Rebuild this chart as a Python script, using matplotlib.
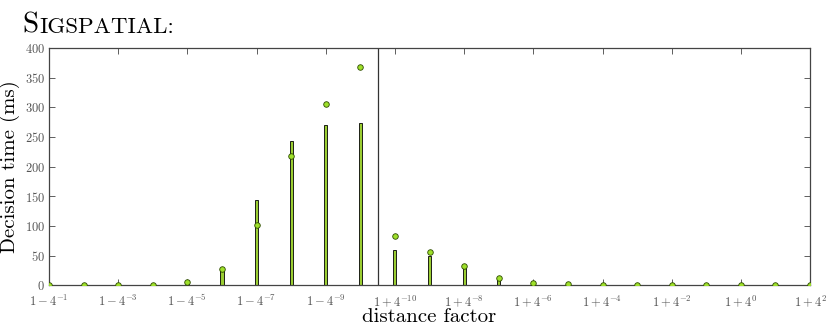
import numpy as np
import matplotlib
matplotlib.use("Agg")
import matplotlib.pyplot as plt

plt.rcParams['mathtext.fontset'] = 'cm'
plt.rcParams['font.family'] = ['cmr10', 'DejaVu Serif']
plt.rcParams['axes.formatter.use_mathtext'] = True

# distance factors: 1-4^-1 ... 1-4^-10, then 1+4^-10 ... 1+4^2
left_exp = list(range(-1, -11, -1))
right_exp = list(range(-10, 3))
labels = ([r"$1-4^{%d}$" % e for e in left_exp] +
          [r"$1+4^{%d}$" % e for e in right_exp])

bar_ms = [0.5, 0.3, 0.3, 0.5, 2, 25, 143, 243, 270, 273,
          59, 49, 29, 10, 3, 1, 0.5, 0.5, 0.5, 0.5, 0.5, 0.5, 0.5]
point_ms = [0.3, 0.5, 1, 1, 5, 27, 101, 218, 305, 368,
            83, 56, 32, 12, 4, 1.5, 1, 1, 1, 1, 1, 1, 0.5]

pos = np.arange(len(labels))

fig = plt.figure(figsize=(8.3, 3.27), dpi=100)
ax = fig.add_axes([0.059, 0.128, 0.917, 0.725])

ax.bar(pos, bar_ms, width=0.09, color='yellowgreen', edgecolor='black',
       linewidth=0.6, zorder=2)
ax.plot(pos, point_ms, 'o', markersize=4, markerfacecolor='#9ee02a',
        markeredgecolor='#2d4a00', markeredgewidth=0.6, zorder=3)
ax.axvline(9.5, color='#333333', linewidth=0.9, zorder=1)

ax.set_xlim(0, 22)
ax.set_ylim(0, 400)
ax.set_yticks(range(0, 401, 50))
ax.set_xticks(pos[::2])
ax.set_xticklabels(labels[::2])

for s in ax.spines.values():
    s.set_color('#444444')
    s.set_linewidth(0.9)
ax.tick_params(direction='in', top=True, right=True, length=4, width=0.6,
               color='#444444', labelsize=9, labelcolor='#555555', pad=3)
ax.tick_params(axis='x', pad=6)

ax.set_xlabel('distance factor', fontsize=15, labelpad=-1)
ax.set_ylabel('Decision time (ms)', fontsize=15, labelpad=3)

fig.text(0.027, 0.9, 'S', fontsize=21, va='baseline')
fig.text(0.048, 0.9, 'IGSPATIAL:', fontsize=16.5, va='baseline')

fig.savefig('out.png', dpi=100)
